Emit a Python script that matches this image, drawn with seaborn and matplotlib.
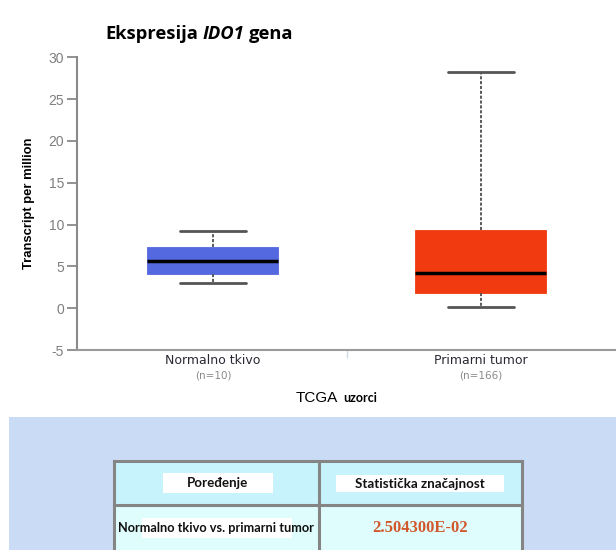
import matplotlib
matplotlib.use("Agg")
import matplotlib.pyplot as plt
from matplotlib import font_manager
from matplotlib.patches import Rectangle
import seaborn as sns
import pandas as pd

# ---- data -------------------------------------------------------------
groups = ["Normalno tkivo", "Primarni tumor"]
sample_counts = [10, 166]
# five-number summaries (min, Q1, median, Q3, max) in TPM
normal_summary = [2.96, 4.12, 5.60, 7.31, 9.22]
tumor_summary = [0.17, 1.84, 4.24, 9.31, 28.2]
box_colors = ["#5468e0", "#f23a10"]
y_ticks = [-5, 0, 5, 10, 15, 20, 25, 30]
comparison_label = "Normalno tkivo vs. primarni tumor"
p_value_text = "2.504300E-02"

df = pd.DataFrame({
    "grupa": [groups[0]] * len(normal_summary) + [groups[1]] * len(tumor_summary),
    "tpm": normal_summary + tumor_summary,
})

sns.set_theme(style="white")
plt.rcParams["font.family"] = ["DejaVu Sans"]

available = {f.name for f in font_manager.fontManager.ttflist}
narrow = "Liberation Sans Narrow" if "Liberation Sans Narrow" in available else "Liberation Sans"

W, H = 616, 550
fig = plt.figure(figsize=(W / 100, H / 100), dpi=100)

# overlay in pixel coordinates for the title, axis caption and table panel
ov = fig.add_axes([0, 0, 1, 1])
ov.set_xlim(0, W)
ov.set_ylim(H, 0)
ov.axis("off")
ov.patch.set_visible(False)

ax = fig.add_axes([77 / W, 1 - 350 / H, 1 - 77 / W, (350 - 57.3) / H])
ax.patch.set_visible(False)

sns.boxplot(
    data=df, x="grupa", y="tpm", hue="grupa", palette=box_colors,
    order=groups, hue_order=groups, legend=False,
    whis=(0, 100), width=0.489, showfliers=False, ax=ax,
    medianprops=dict(color="black", linewidth=2.5),
    whiskerprops=dict(color="#5a5a5a", linewidth=1.4, linestyle=(0, (1.6, 0.9))),
    capprops=dict(color="#555555", linewidth=2.0),
    boxprops=dict(linewidth=0.6),
)
for patch, c in zip(ax.patches, box_colors):
    patch.set_facecolor(c)
    patch.set_edgecolor(c)
    patch.set_alpha(None)

ax.set_xlim(-0.507, 1.504)
ax.set_ylim(-5, 30)
ax.set_yticks(y_ticks)
ax.set_yticklabels([str(v) for v in y_ticks], family="Liberation Sans",
                   fontsize=10, color="#7f7f7f")
ax.tick_params(axis="y", which="major", direction="out", length=7.2, width=1.2,
               color="#7f7f7f", left=True, pad=2)
ax.set_xticks([0, 1])
ax.set_xticklabels(groups, fontsize=9, color="#2a2a35", family="DejaVu Sans")
ax.tick_params(axis="x", which="major", length=0, pad=3)
ax.set_xticks([0.5], minor=True)
ax.tick_params(axis="x", which="minor", direction="out", length=6, width=1,
               color="#d5dbe8", bottom=True)

for side in ["top", "right"]:
    ax.spines[side].set_visible(False)
ax.spines["left"].set_color("#8a8a8a")
ax.spines["left"].set_linewidth(1.5)
ax.spines["bottom"].set_color("#9a9a9a")
ax.spines["bottom"].set_linewidth(1.5)
ax.set_xlabel("")
ax.set_ylabel("Transcript per million", family=narrow, fontweight="bold",
              fontsize=9.4, color="black", labelpad=10)

for i, n in enumerate(sample_counts):
    ax.annotate(f"(n={n})", xy=(i, 0), xycoords=("data", "axes fraction"),
                xytext=(0, -25), textcoords="offset pixels",
                ha="center", va="center", fontsize=7.5, color="#8a8a8a",
                family="DejaVu Sans")

fig.canvas.draw()
renderer = fig.canvas.get_renderer()

# title: "Ekspresija IDO1 gena" with the gene symbol in italics
title_font = dict(family="Open Sans", fontweight="bold", fontsize=13.2, color="black")
t1 = ov.text(105, 39, "Ekspresija", va="baseline", ha="left", **title_font)
x = t1.get_window_extent(renderer).x1 + 4.5
t2 = ov.text(x, 39, "IDO1", va="baseline", ha="left", style="italic", **title_font)
x = t2.get_window_extent(renderer).x1 + 4.5
ov.text(x, 39, "gena", va="baseline", ha="left", **title_font)

# x-axis caption
c1 = ov.text(296, 402, "TCGA", va="baseline", ha="left", family="Liberation Sans",
             fontsize=11, color="black")
x = c1.get_window_extent(renderer).x1 + 5
ov.text(x, 402, "uzorci", va="baseline", ha="left", family="Lato",
        fontweight="bold", fontsize=9, color="black")

# statistics panel
ov.add_patch(Rectangle((9, 417), W - 9, H - 417, facecolor="#cadcf5",
                       edgecolor="none"))
ov.add_patch(Rectangle((114, 461), 205, 44, facecolor="#c7f4fc", edgecolor="none"))
ov.add_patch(Rectangle((319, 461), 202, 44, facecolor="#c7f4fc", edgecolor="none"))
ov.add_patch(Rectangle((114, 505), 205, 50, facecolor="#defdfc", edgecolor="none"))
ov.add_patch(Rectangle((319, 505), 202, 50, facecolor="#defdfc", edgecolor="none"))
grid_kw = dict(color="#858585", linewidth=2.2, solid_capstyle="projecting")
ov.plot([114, 114], [461, 560], **grid_kw)
ov.plot([318.5, 318.5], [461, 560], **grid_kw)
ov.plot([521.5, 521.5], [461, 560], **grid_kw)
ov.plot([114, 521.5], [461, 461], **grid_kw)
ov.plot([114, 521.5], [505, 505], **grid_kw)

# white label boxes in the header and first cell
ov.add_patch(Rectangle((163, 473), 110, 20, facecolor="white", edgecolor="none"))
ov.add_patch(Rectangle((336, 475), 168, 17, facecolor="white", edgecolor="none"))
ov.add_patch(Rectangle((142, 518), 150, 20, facecolor="white", edgecolor="none"))

cell_font = dict(family="Lato", fontweight="bold", color="#111111",
                 ha="center", va="center")
ov.text(218, 483, "Poređenje", fontsize=9.6, **cell_font)
ov.text(420, 483.5, "Statistička značajnost", fontsize=9.6, **cell_font)
ov.text(216, 528, comparison_label, fontsize=9.2, **cell_font)
ov.text(420, 528, p_value_text, family="Liberation Serif", fontweight="bold",
        fontsize=12, color="#d2582c", ha="center", va="center")

fig.savefig("out.png", dpi=100)
